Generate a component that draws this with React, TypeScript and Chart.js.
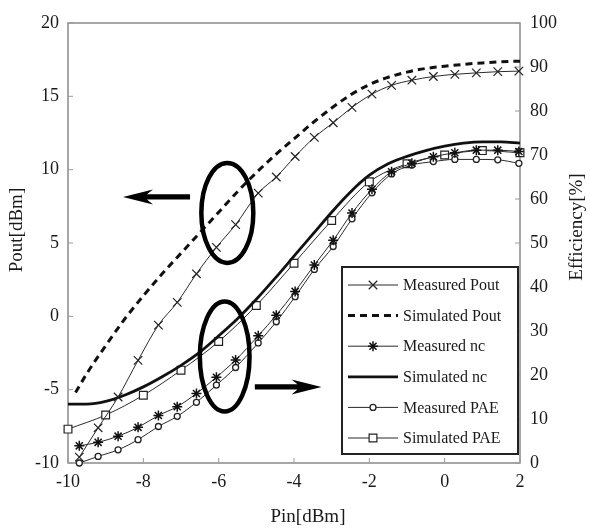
import React, { useEffect, useRef } from "react";
import { Chart, registerables } from "chart.js";

Chart.register(...registerables);

// ---------- data ----------
const measuredPin = [-9.7, -9.2, -8.67, -8.14, -7.6, -7.1, -6.59, -6.06, -5.55, -4.95, -4.47, -3.97, -3.46, -2.96, -2.46, -1.93, -1.41, -0.87, -0.3, 0.27, 0.84, 1.41, 1.97];
const measuredPout = [-9.6, -7.6, -5.5, -3.0, -0.6, 0.95, 2.9, 4.7, 6.25, 8.4, 9.5, 10.9, 12.2, 13.2, 14.25, 15.15, 15.75, 16.1, 16.35, 16.5, 16.6, 16.68, 16.72];
const measuredNc = [3.9, 4.7, 6.1, 8.1, 10.8, 12.8, 15.8, 19.5, 23.4, 28.9, 33.6, 39.0, 45.0, 50.6, 56.8, 62.2, 66.2, 68.1, 69.6, 70.5, 71.1, 71.1, 70.8];
const measuredPae = [0, 1.5, 3.0, 5.3, 8.3, 10.6, 13.8, 17.7, 21.7, 27.3, 32.1, 37.8, 44.0, 49.2, 55.5, 61.4, 65.7, 67.7, 68.5, 69.0, 69.0, 68.9, 68.1];

const simPoutPin = [-9.8, -9.5, -9, -8.5, -8, -7.5, -7, -6.5, -6, -5.5, -5, -4.5, -4, -3.5, -3, -2.5, -2, -1.5, -1, -0.5, 0, 0.5, 1, 1.5, 2];
const simPout = [-5.2, -3.9, -2.0, -0.2, 1.4, 2.9, 4.3, 5.7, 7.1, 8.5, 9.8, 11.0, 12.1, 13.2, 14.2, 15.1, 15.8, 16.3, 16.65, 16.9, 17.05, 17.18, 17.28, 17.35, 17.4];

const simNcPin = [-10, -9.5, -9, -8.5, -8, -7.5, -7, -6.5, -6, -5.5, -5, -4.5, -4, -3.5, -3, -2.5, -2, -1.5, -1, -0.5, 0, 0.5, 1, 1.5, 2];
const simNc = [13.4, 13.4, 14.0, 15.4, 17.3, 19.6, 22.2, 25.2, 28.9, 32.8, 37.2, 42.0, 47.0, 52.0, 57.0, 61.6, 65.4, 68.0, 69.7, 71.0, 72.0, 72.7, 73.0, 73.0, 72.7];

const simPaePin = [-10, -9, -8, -7, -6, -5, -4, -3, -2, -1, 0, 1, 2];
const simPae = [7.7, 10.9, 15.4, 21.1, 27.6, 35.8, 45.4, 55.1, 63.9, 68.0, 70.0, 71.0, 70.5];

const seriesLabels = ["Measured Pout", "Simulated Pout", "Measured nc", "Simulated nc", "Measured PAE", "Simulated PAE"];

const xTitle = "Pin[dBm]";
const yTitle = "Pout[dBm]";
const y1Title = "Efficiency[%]";

// annotations, in data units of the given y axis
const ellipses = [
  { axis: "y", cx: -5.77, cy: 7.05, rx: 0.69, ry: 3.41 },
  { axis: "y1", cx: -5.84, cy: 24.2, rx: 0.66, ry: 12.5 },
];
const arrows = [
  { axis: "y", from: -6.76, to: -8.54, y: 8.14 },
  { axis: "y1", from: -5.04, to: -3.27, y: 17.3 },
];

const FONT = '"Liberation Serif", "Times New Roman", serif';
const INK = "#1a1a1a";

const pts = (xs: number[], ys: number[]) => xs.map((x, i) => ({ x, y: ys[i] }));

function drawMarker(ctx: CanvasRenderingContext2D, style: string, x: number, y: number, r: number) {
  ctx.beginPath();
  if (style === "crossRot" || style === "star") {
    const d = r * Math.SQRT1_2;
    ctx.moveTo(x - d, y - d);
    ctx.lineTo(x + d, y + d);
    ctx.moveTo(x + d, y - d);
    ctx.lineTo(x - d, y + d);
    if (style === "star") {
      ctx.moveTo(x - r, y);
      ctx.lineTo(x + r, y);
      ctx.moveTo(x, y - r);
      ctx.lineTo(x, y + r);
    }
    ctx.stroke();
  } else if (style === "circle") {
    ctx.arc(x, y, r, 0, Math.PI * 2);
    ctx.fillStyle = "#fff";
    ctx.fill();
    ctx.stroke();
  } else if (style === "rect") {
    const s = r * Math.SQRT1_2;
    ctx.rect(x - s, y - s, 2 * s, 2 * s);
    ctx.fillStyle = "#fff";
    ctx.fill();
    ctx.stroke();
  }
}

const framePlugin = {
  id: "frame",
  beforeDatasetsDraw(chart: any) {
    const { ctx, chartArea: a, scales } = chart;
    ctx.save();
    ctx.strokeStyle = "#8a8a8a";
    ctx.lineWidth = 1.5;
    ctx.strokeRect(a.left, a.top, a.right - a.left, a.bottom - a.top);
    ctx.lineWidth = 1;
    ctx.strokeStyle = "#9a9a9a";
    const tl = 5;
    ctx.beginPath();
    scales.x.ticks.forEach((t: any) => {
      const px = scales.x.getPixelForValue(t.value);
      ctx.moveTo(px, a.bottom);
      ctx.lineTo(px, a.bottom - tl);
    });
    scales.y.ticks.forEach((t: any) => {
      const py = scales.y.getPixelForValue(t.value);
      ctx.moveTo(a.left, py);
      ctx.lineTo(a.left + tl, py);
    });
    scales.y1.ticks.forEach((t: any) => {
      const py = scales.y1.getPixelForValue(t.value);
      ctx.moveTo(a.right, py);
      ctx.lineTo(a.right - tl, py);
    });
    ctx.stroke();
    ctx.restore();
  },
};

const overlayPlugin = {
  id: "overlay",
  afterDraw(chart: any) {
    const { ctx, scales, chartArea: a } = chart;
    ctx.save();

    // ellipses
    ctx.strokeStyle = "#000";
    ctx.lineWidth = 4.5;
    ellipses.forEach((e) => {
      const ys = scales[e.axis];
      const cx = scales.x.getPixelForValue(e.cx);
      const cy = ys.getPixelForValue(e.cy);
      const rx = Math.abs(scales.x.getPixelForValue(e.cx + e.rx) - cx);
      const ry = Math.abs(ys.getPixelForValue(e.cy + e.ry) - cy);
      ctx.beginPath();
      ctx.ellipse(cx, cy, rx, ry, 0, 0, Math.PI * 2);
      ctx.stroke();
    });

    // arrows
    ctx.fillStyle = "#000";
    arrows.forEach((ar) => {
      const ys = scales[ar.axis];
      const x0 = scales.x.getPixelForValue(ar.from);
      const x1 = scales.x.getPixelForValue(ar.to);
      const y = ys.getPixelForValue(ar.y);
      const dir = Math.sign(x1 - x0);
      const head = 30;
      const hw = 7.5;
      const sw = 2.6;
      const xb = x1 - dir * head;
      ctx.beginPath();
      ctx.moveTo(x0, y - sw);
      ctx.lineTo(xb + dir * 6, y - sw);
      ctx.lineTo(xb, y - hw);
      ctx.lineTo(x1, y);
      ctx.lineTo(xb, y + hw);
      ctx.lineTo(xb + dir * 6, y + sw);
      ctx.lineTo(x0, y + sw);
      ctx.closePath();
      ctx.fill();
    });

    // legend
    const lx = 342, ly = 267, lw = 176, lh = 187;
    ctx.fillStyle = "#fff";
    ctx.fillRect(lx, ly, lw, lh);
    ctx.strokeStyle = "#222";
    ctx.lineWidth = 2;
    ctx.strokeRect(lx, ly, lw, lh);
    ctx.font = `16px ${FONT}`;
    ctx.textBaseline = "middle";
    ctx.textAlign = "left";
    chart.data.datasets.forEach((ds: any, i: number) => {
      const ry = ly + 18 + i * 30.6;
      const x0 = lx + 6, x1 = lx + 56;
      ctx.save();
      ctx.strokeStyle = ds.borderColor;
      ctx.lineWidth = ds.borderWidth;
      ctx.setLineDash(ds.borderDash || []);
      ctx.beginPath();
      ctx.moveTo(x0, ry);
      ctx.lineTo(x1, ry);
      ctx.stroke();
      ctx.setLineDash([]);
      if (ds.pointRadius > 0) {
        ctx.strokeStyle = ds.pointBorderColor;
        ctx.lineWidth = ds.pointBorderWidth;
        drawMarker(ctx, ds.pointStyle, (x0 + x1) / 2, ry, ds.legendRadius);
      }
      ctx.restore();
      ctx.fillStyle = INK;
      ctx.fillText(ds.label, lx + 61, ry + 1);
    });

    // axis titles
    ctx.fillStyle = INK;
    ctx.font = `19px ${FONT}`;
    ctx.textAlign = "center";
    ctx.textBaseline = "middle";
    ctx.fillText(xTitle, (a.left + a.right) / 2 + 14, a.bottom + 54);
    ctx.save();
    ctx.translate(a.left - 51, (a.top + a.bottom) / 2 - 13);
    ctx.rotate(-Math.PI / 2);
    ctx.fillText(yTitle, 0, 0);
    ctx.restore();
    ctx.save();
    ctx.translate(a.right + 57, (a.top + a.bottom) / 2 - 16);
    ctx.rotate(-Math.PI / 2);
    ctx.fillText(y1Title, 0, 0);
    ctx.restore();

    ctx.restore();
  },
};

export default function App() {
  const ref = useRef<HTMLCanvasElement>(null);

  useEffect(() => {
    const canvas = ref.current;
    if (!canvas) return;
    const thin = "#2a2a2a";
    const datasets: any[] = [
      {
        label: seriesLabels[0],
        data: pts(measuredPin, measuredPout),
        yAxisID: "y",
        borderColor: thin,
        borderWidth: 1,
        pointStyle: "crossRot",
        pointRadius: 6,
        legendRadius: 6,
        pointBorderColor: "#222",
        pointBorderWidth: 1.2,
      },
      {
        label: seriesLabels[1],
        data: pts(simPoutPin, simPout),
        yAxisID: "y",
        borderColor: "#111",
        borderWidth: 3,
        borderDash: [7, 5],
        pointRadius: 0,
      },
      {
        label: seriesLabels[2],
        data: pts(measuredPin, measuredNc),
        yAxisID: "y1",
        borderColor: thin,
        borderWidth: 1,
        pointStyle: "star",
        pointRadius: 5,
        legendRadius: 5,
        pointBorderColor: "#111",
        pointBorderWidth: 1.5,
      },
      {
        label: seriesLabels[3],
        data: pts(simNcPin, simNc),
        yAxisID: "y1",
        borderColor: "#111",
        borderWidth: 2.8,
        pointRadius: 0,
      },
      {
        label: seriesLabels[4],
        data: pts(measuredPin, measuredPae),
        yAxisID: "y1",
        borderColor: thin,
        borderWidth: 1,
        pointStyle: "circle",
        pointRadius: 3,
        legendRadius: 3,
        pointBackgroundColor: "#fff",
        pointBorderColor: "#222",
        pointBorderWidth: 1.3,
      },
      {
        label: seriesLabels[5],
        data: pts(simPaePin, simPae),
        yAxisID: "y1",
        borderColor: thin,
        borderWidth: 1,
        pointStyle: "rect",
        pointRadius: 5.5,
        legendRadius: 5.5,
        pointBackgroundColor: "#fff",
        pointBorderColor: "#222",
        pointBorderWidth: 1.2,
      },
    ].map((d) => ({ ...d, cubicInterpolationMode: "monotone", fill: false, clip: false, pointHoverRadius: d.pointRadius }));

    const tickFont = { family: FONT, size: 18 };
    const chart = new Chart(canvas, {
      type: "line",
      data: { datasets },
      options: {
        responsive: false,
        animation: false,
        devicePixelRatio: 1,
        events: [],
        layout: { padding: { top: 23, left: 0, right: 0, bottom: 0 } },
        plugins: { legend: { display: false }, tooltip: { enabled: false } },
        scales: {
          x: {
            type: "linear",
            min: -10,
            max: 2,
            ticks: { stepSize: 2, font: tickFont, color: INK, padding: 8, maxRotation: 0 },
            grid: { display: false, drawTicks: false },
            border: { display: false },
            afterFit: (s: any) => { s.height = 66; },
          },
          y: {
            type: "linear",
            position: "left",
            min: -10,
            max: 20,
            ticks: { stepSize: 5, font: tickFont, color: INK, padding: 9 },
            grid: { display: false, drawTicks: false },
            border: { display: false },
            afterFit: (s: any) => { s.width = 68; },
          },
          y1: {
            type: "linear",
            position: "right",
            min: 0,
            max: 100,
            ticks: { stepSize: 10, font: tickFont, color: INK, padding: 10 },
            grid: { display: false, drawTicks: false },
            border: { display: false },
            afterFit: (s: any) => { s.width = 70; },
          },
        },
      } as any,
      plugins: [framePlugin, overlayPlugin],
    });
    return () => chart.destroy();
  }, []);

  return (
    <div style={{ position: "absolute", left: 0, top: 0, width: 590, height: 529, background: "#fff" }}>
      <canvas ref={ref} width={590} height={529} style={{ display: "block" }} />
    </div>
  );
}
